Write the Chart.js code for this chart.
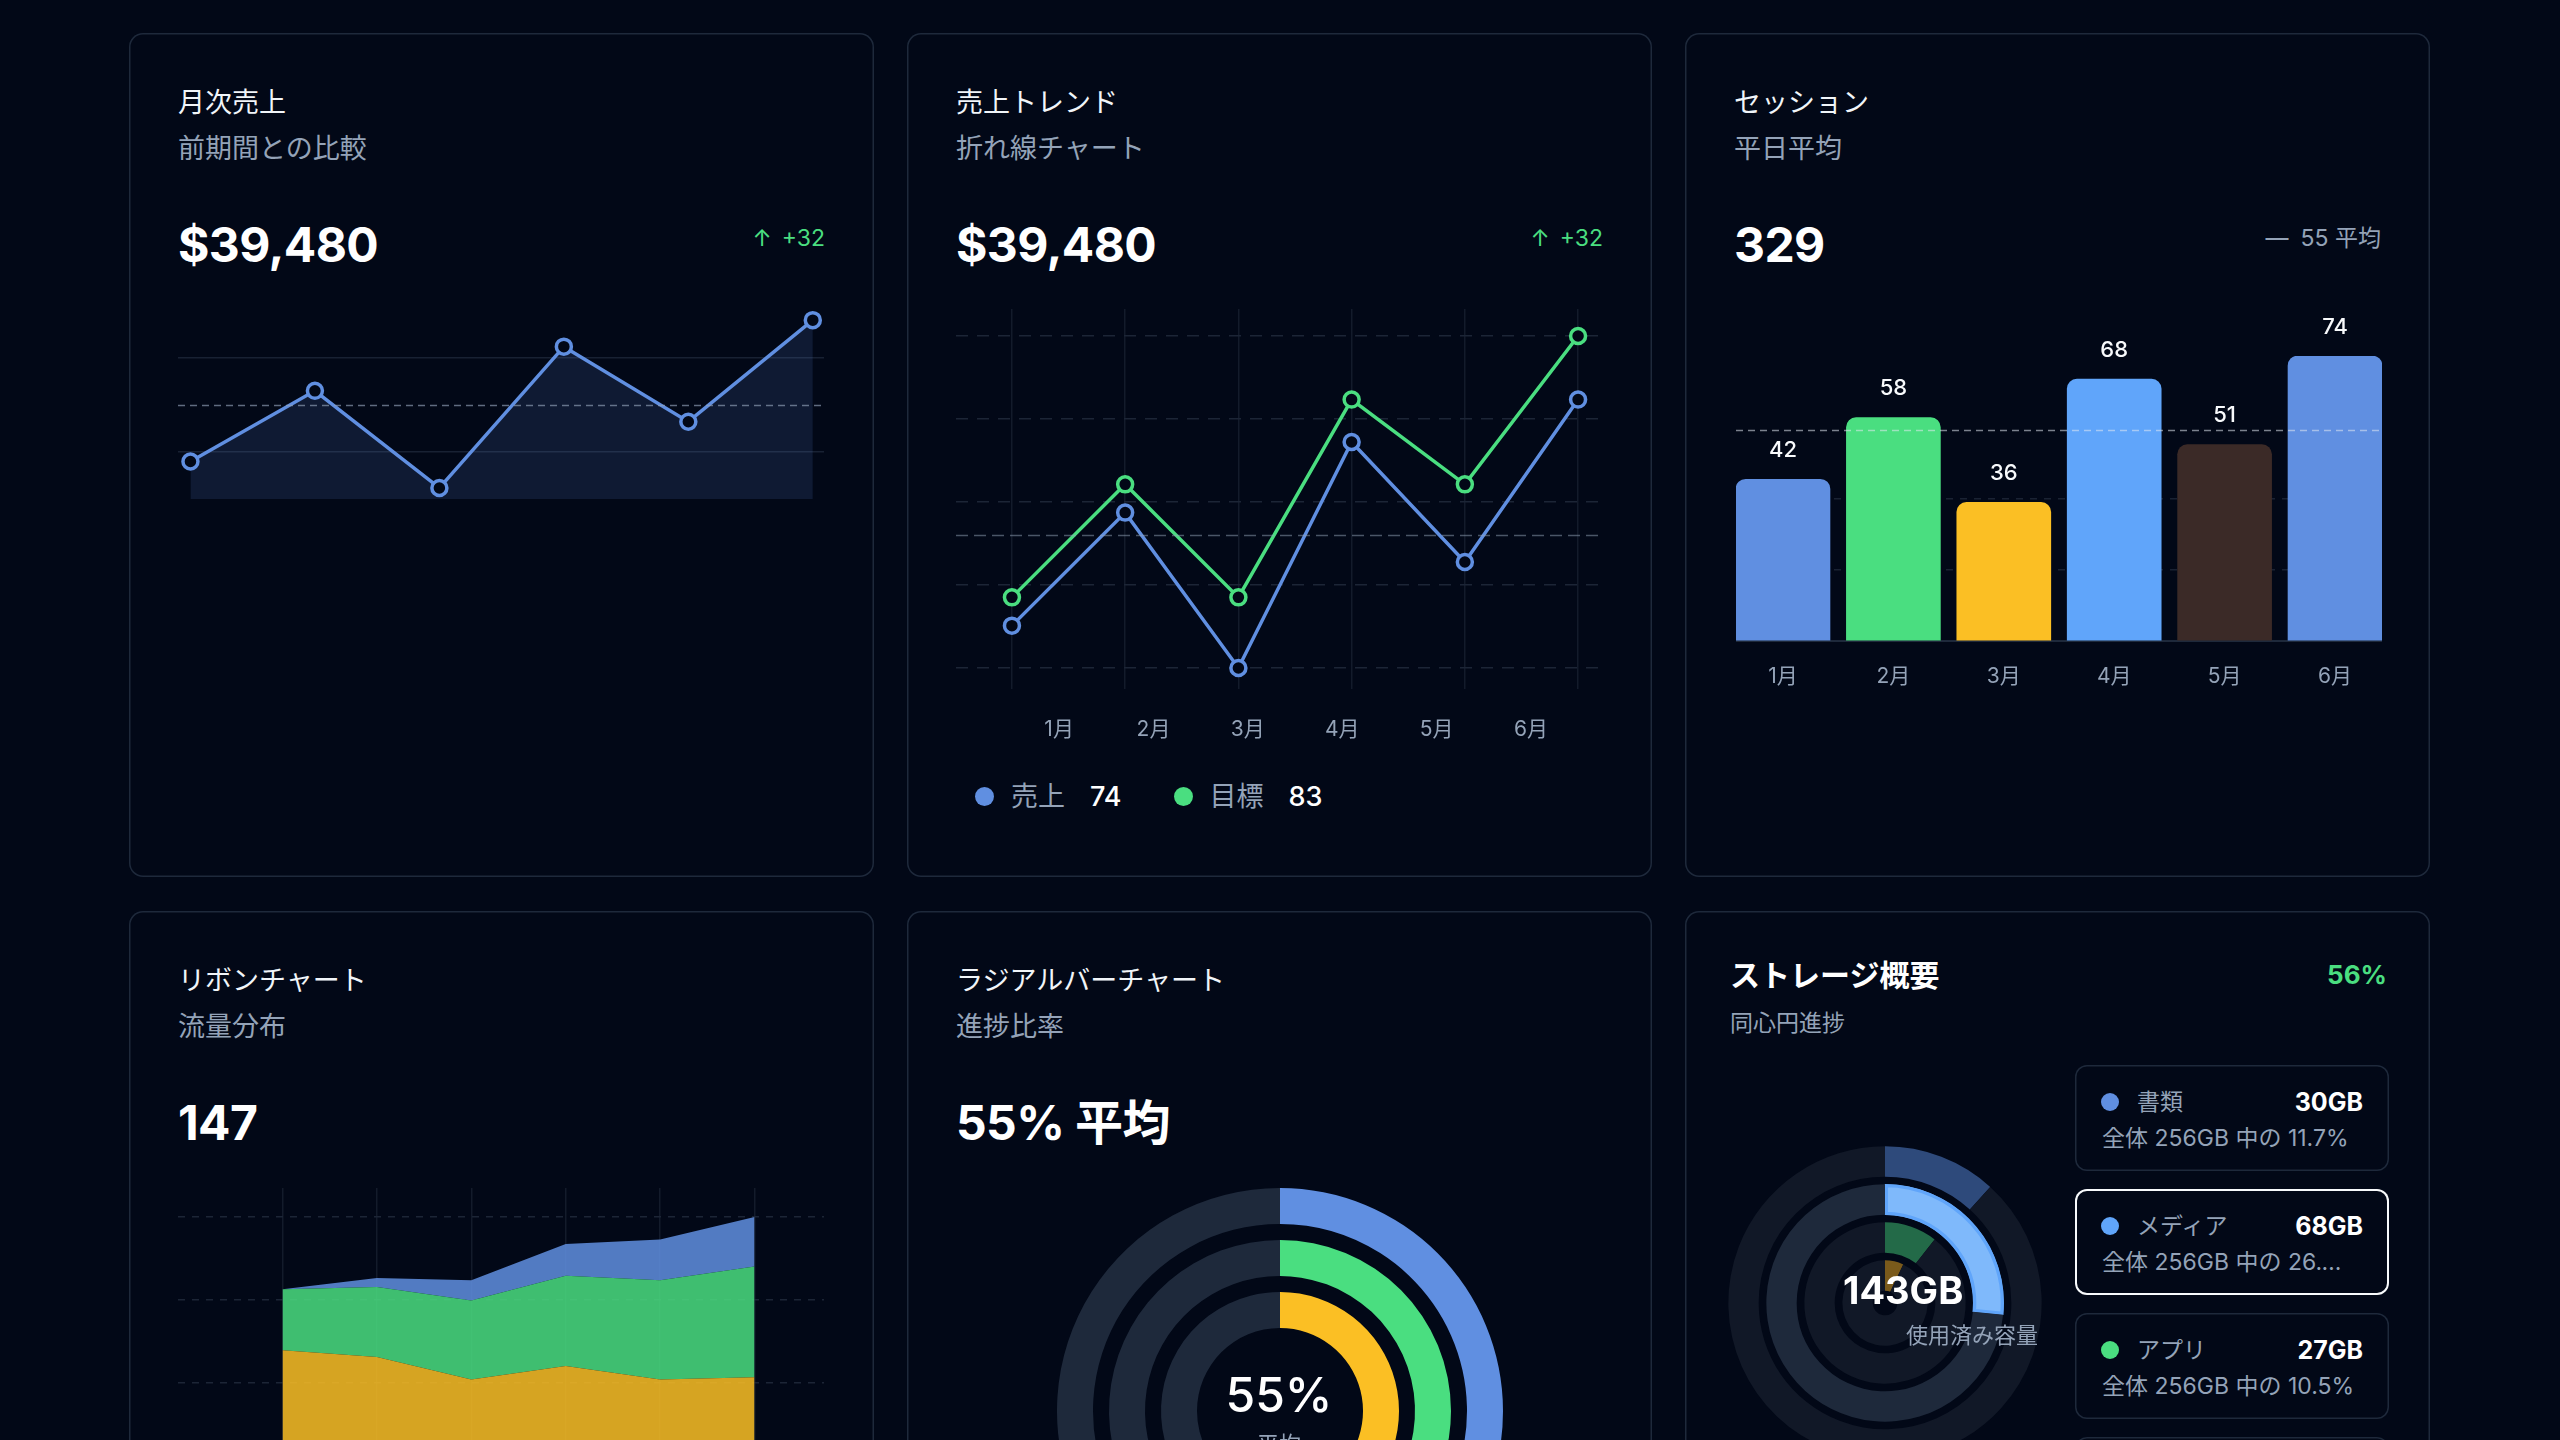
<!DOCTYPE html>
<html lang="ja">
<head>
<meta charset="utf-8">
<title>ダッシュボード</title>
<script src="https://cdn.jsdelivr.net/npm/chart.js@4.4.1/dist/chart.umd.min.js"></script>
<style>
  html, body { margin: 0; padding: 0; background: #020817; }
  body { width: 2560px; height: 1440px; overflow: hidden; position: relative;
         font-family: Inter, "Noto Sans CJK JP", sans-serif; color: #f1f5f9; }
  .card { position: absolute; width: 745px; height: 844px; border-radius: 14px;
          background: #020817; box-shadow: inset 0 0 0 1.5px #1e293b; }
  .card canvas { position: absolute; }
  .t { position: absolute; white-space: nowrap; }
  .title { left: 49px; top: 56px; font-size: 27px; line-height: 27px; color: #f1f5f9; }
  .sub { left: 49px; top: 102px; font-size: 27px; line-height: 27px; color: #94a3b8; }
  .big { left: 49px; top: 188px; font-size: 48px; line-height: 48px; font-weight: 700; color: #fff; letter-spacing: -0.6px; }
  .delta { right: 49px; top: 194px; font-size: 23px; line-height: 23px; color: #4ade80; }
  .delta .arrow { margin-right: 10px; }
  .avg { right: 49px; top: 194px; font-size: 23px; line-height: 23px; color: #94a3b8; }
  .avg .dash { margin-right: 12px; }
  .legend { position: absolute; left: 68px; top: 750px; display: flex; align-items: center;
            font-size: 27px; line-height: 27px; }
  .legend .dot { width: 19px; height: 19px; border-radius: 50%; margin-right: 17px; }
  .legend .name { color: #94a3b8; margin-right: 25px; }
  .legend .val { color: #fff; font-weight: 500; margin-right: 52px; }
  .ring-center { position: absolute; text-align: center; }
  .s-title { left: 45px; top: 49px; font-size: 30px; line-height: 30px; font-weight: 700; color: #fff; }
  .s-sub { left: 45px; top: 101px; font-size: 23px; line-height: 23px; color: #94a3b8; }
  .s-pct { right: 43px; top: 51px; font-size: 26px; line-height: 26px; font-weight: 700; color: #4ade80; }
  .item { position: absolute; left: 390px; width: 314px; height: 106px; border-radius: 12px;
          box-shadow: inset 0 0 0 1.5px #1e293b; }
  .item.active { box-shadow: inset 0 0 0 2px #f8fafc; }
  .item .dot { position: absolute; left: 26px; top: 28px; width: 18px; height: 18px; border-radius: 50%; }
  .item .name { position: absolute; left: 62px; top: 26px; font-size: 23px; line-height: 23px; color: #94a3b8; }
  .item .gb { position: absolute; right: 26px; top: 25px; font-size: 25px; line-height: 25px; font-weight: 700; color: #fff; }
  .item .share { position: absolute; left: 27px; top: 62px; max-width: 261px; overflow: hidden; white-space: nowrap;
                 text-overflow: ellipsis; font-size: 23px; line-height: 23px; color: #94a3b8; }
  .item.active .share { max-width: 246px; }
</style>
</head>
<body>

<div class="card" style="left:129px;top:33px">
  <div class="t title">月次売上</div>
  <div class="t sub">前期間との比較</div>
  <div class="t big">$39,480</div>
  <div class="t delta"><span class="arrow">↑</span>+32</div>
  <canvas id="c1" width="646" height="189" style="left:49px;top:277px"></canvas>
</div>

<div class="card" style="left:907px;top:33px">
  <div class="t title">売上トレンド</div>
  <div class="t sub">折れ線チャート</div>
  <div class="t big">$39,480</div>
  <div class="t delta"><span class="arrow">↑</span>+32</div>
  <canvas id="c2" width="647" height="440" style="left:49px;top:276px"></canvas>
  <div class="legend" id="trendLegend"></div>
</div>

<div class="card" style="left:1685px;top:33px">
  <div class="t title">セッション</div>
  <div class="t sub">平日平均</div>
  <div class="t big" id="sessionTotal"></div>
  <div class="t avg"><span class="dash">—</span><span id="sessionAvg"></span> 平均</div>
  <canvas id="c3" width="646" height="391" style="left:51px;top:267px"></canvas>
</div>

<div class="card" style="left:129px;top:911px">
  <div class="t title">リボンチャート</div>
  <div class="t sub">流量分布</div>
  <div class="t big" id="ribbonTotal"></div>
  <canvas id="c4" width="646" height="380" style="left:49px;top:277px"></canvas>
</div>

<div class="card" style="left:907px;top:911px">
  <div class="t title">ラジアルバーチャート</div>
  <div class="t sub">進捗比率</div>
  <div class="t big" id="radialHead"></div>
  <canvas id="c5" width="446" height="446" style="left:150px;top:277px"></canvas>
  <div class="ring-center" id="radialCenter" style="left:272px;top:460px;width:200px;font-size:48px;line-height:48px;font-weight:500;color:#fff"></div>
  <div class="ring-center" style="left:272px;top:522px;width:200px;font-size:22px;line-height:22px;color:#94a3b8">平均</div>
</div>

<div class="card" style="left:1685px;top:911px">
  <div class="t s-title">ストレージ概要</div>
  <div class="t s-sub">同心円進捗</div>
  <div class="t s-pct" id="storagePct"></div>
  <canvas id="c6" width="314" height="314" style="left:43px;top:235px"></canvas>
  <div class="t" id="storageUsed" style="left:158px;top:360px;font-size:38px;line-height:38px;font-weight:700;color:#fff"></div>
  <div class="t" style="left:221px;top:413px;font-size:22px;line-height:22px;color:#94a3b8">使用済み容量</div>
  <div id="storageItems"></div>
</div>

<script>
const months = ["1月", "2月", "3月", "4月", "5月", "6月"];
const monthlySales = [42, 58, 36, 68, 51, 74];
const trendSales = [42, 58, 36, 68, 51, 74];
const trendTarget = [46, 62, 46, 74, 62, 83];
const sessions = [42, 58, 36, 68, 51, 74];
const ribbonBase = [88, 85, 75, 81, 75, 76];
const ribbonMid = [27, 31, 35, 40, 44, 49];
const ribbonTop = [0, 4, 9, 14, 18, 22];
const radialValues = [68, 55, 42];
const storageNames = ["書類", "メディア", "アプリ", "その他"];
const storageGB = [30, 68, 27, 18];
const storageTotal = 256;
const activeStorage = 1;

const BG = "#020817";
const BLUE = "#608fe1";
const GREEN = "#4ade80";
const AMBER = "#fbbf24";
const GREY = "#94a3b8";
const sessionColors = [BLUE, GREEN, AMBER, "#60a5fa", "#3b2a27", BLUE];
const storageDots = [BLUE, "#60a5fa", GREEN, AMBER];
const storageSeg = ["#2e4a7b", "#7fb9fb", "#236a48", "#7a5a1b"];
const storageTrack = ["#111827", "#1e293b", "#111827", "#111827"];

Chart.defaults.font.family = 'Inter, "Noto Sans CJK JP", sans-serif';
Chart.defaults.animation = false;
Chart.defaults.responsive = false;
Chart.defaults.devicePixelRatio = 1;
Chart.defaults.events = [];
Chart.defaults.layout.autoPadding = false;
Chart.defaults.plugins.legend.display = false;
Chart.defaults.plugins.tooltip.enabled = false;

const xy = arr => arr.map((v, i) => ({ x: i, y: v }));
const avg = arr => arr.reduce((a, b) => a + b, 0) / arr.length;
const quarterTicks = (lo, hi) => s => { s.ticks = [0, 1, 2, 3, 4].map(k => ({ value: lo + k * (hi - lo) / 4 })); };
const indexTicks = n => s => { s.ticks = Array.from({ length: n }, (_, i) => ({ value: i })); };
const lineStyle = col => ({
  borderColor: col, borderWidth: 3.5, tension: 0, pointRadius: 7.5, pointBorderWidth: 3.5,
  pointBackgroundColor: BG, pointBorderColor: col, clip: false
});

// dashed average line
Chart.register({
  id: "avgLine",
  afterDatasetsDraw(chart, args, opts) {
    if (opts.value == null) return;
    const { ctx, chartArea: a } = chart;
    const py = Math.round(chart.scales.y.getPixelForValue(opts.value)) + 0.5;
    ctx.save();
    ctx.strokeStyle = opts.color;
    ctx.lineWidth = opts.width || 1.5;
    ctx.setLineDash(opts.dash || [6, 6]);
    ctx.beginPath();
    ctx.moveTo(a.left, py);
    ctx.lineTo(a.right, py);
    ctx.stroke();
    ctx.restore();
  }
});

const barLabels = {
  id: "barLabels",
  afterDatasetsDraw(chart) {
    const { ctx } = chart;
    ctx.save();
    ctx.font = '500 22px Inter, "Noto Sans CJK JP"';
    ctx.fillStyle = "#f8fafc";
    ctx.textAlign = "center";
    ctx.textBaseline = "middle";
    chart.getDatasetMeta(0).data.forEach((bar, i) => ctx.fillText(sessions[i], bar.x, bar.y - 29));
    ctx.restore();
  }
};

// 月次売上
new Chart(document.getElementById("c1"), {
  type: "line",
  data: {
    datasets: [Object.assign(lineStyle(BLUE), {
      data: xy(monthlySales), fill: "start", backgroundColor: "rgba(96,143,225,0.14)"
    })]
  },
  options: {
    scales: {
      x: { type: "linear", display: false, min: -0.1, max: 5.09 },
      y: {
        min: 33.5, max: 76.3, afterBuildTicks: quarterTicks(33.5, 76.3),
        ticks: { display: false },
        grid: { drawTicks: false, lineWidth: 1.5, color: c => (c.index % 2 ? "#182133" : "transparent") },
        border: { display: false }
      }
    },
    plugins: { avgLine: { value: avg(monthlySales), color: "rgba(148,163,184,0.65)", dash: [7, 5] } }
  }
});

// 売上トレンド
const trendLo = Math.min(...trendSales, ...trendTarget);
const trendHi = Math.max(...trendSales, ...trendTarget);
new Chart(document.getElementById("c2"), {
  type: "line",
  data: {
    datasets: [
      Object.assign(lineStyle(BLUE), { data: xy(trendSales), xAxisID: "x" }),
      Object.assign(lineStyle(GREEN), { data: xy(trendTarget), xAxisID: "x" })
    ]
  },
  options: {
    scales: {
      x: {
        type: "linear", min: -0.494, max: 5.22, afterBuildTicks: indexTicks(months.length),
        ticks: { display: false }, grid: { drawTicks: false, color: "#131b2b", lineWidth: 1.5 },
        border: { display: false }
      },
      x2: {
        type: "linear", position: "bottom", min: -0.494, max: 5.22,
        afterBuildTicks: s => { s.ticks = months.map((m, i) => ({ value: (i + 0.5) * 5 / 6 })); },
        afterFit: s => { s.height = 60; },
        grid: { display: false }, border: { display: false },
        ticks: { color: GREY, font: { size: 21 }, padding: 20, autoSkip: false, maxRotation: 0,
                 callback: (v, i) => months[i] }
      },
      y: {
        min: 33.03, max: 86.82, afterBuildTicks: quarterTicks(trendLo, trendHi),
        ticks: { display: false }, grid: { drawTicks: false, color: "#1c2536", lineWidth: 1.5 },
        border: { display: false, dash: [12, 9] }
      }
    },
    plugins: { avgLine: { value: avg(trendSales), color: "rgba(148,163,184,0.5)", dash: [12, 6] } }
  }
});

const legendEl = document.getElementById("trendLegend");
[["売上", BLUE, trendSales], ["目標", GREEN, trendTarget]].forEach(([name, col, arr]) => {
  legendEl.insertAdjacentHTML("beforeend",
    `<span class="dot" style="background:${col}"></span><span class="name">${name}</span><span class="val">${arr[arr.length - 1]}</span>`);
});

// セッション
document.getElementById("sessionTotal").textContent = sessions.reduce((a, b) => a + b, 0);
document.getElementById("sessionAvg").textContent = Math.round(avg(sessions));
const sessMax = Math.max(...sessions);
new Chart(document.getElementById("c3"), {
  type: "bar",
  data: {
    datasets: [{ data: xy(sessions), backgroundColor: sessionColors, borderRadius: 10,
                 borderSkipped: "start", barThickness: 94 }]
  },
  options: {
    layout: { padding: { top: 56 } },
    scales: {
      x: {
        type: "linear", offset: false, min: -0.4255, max: 5.4255, afterBuildTicks: indexTicks(months.length),
        afterFit: s => { s.height = 50; },
        grid: { display: false, offset: false }, border: { display: true, color: "#1e293b", width: 2 },
        ticks: { color: GREY, font: { size: 21 }, padding: 15, autoSkip: false, maxRotation: 0,
                 callback: (v, i) => months[i] }
      },
      y: {
        min: 0, max: sessMax, afterBuildTicks: quarterTicks(0, sessMax),
        ticks: { display: false },
        grid: { drawTicks: false, lineWidth: 1.5, color: c => (c.index === 1 || c.index === 2 ? "#1a2233" : "transparent") },
        border: { display: false, dash: [7, 7] }
      }
    },
    plugins: { avgLine: { value: avg(sessions), color: "rgba(226,232,240,0.55)", dash: [7, 5] } }
  },
  plugins: [barLabels]
});

// リボンチャート
const ribbonLast = ribbonBase[5] + ribbonMid[5] + ribbonTop[5];
document.getElementById("ribbonTotal").textContent = ribbonLast;
new Chart(document.getElementById("c4"), {
  type: "line",
  data: {
    datasets: [
      { data: xy(ribbonBase), fill: "origin", backgroundColor: "rgba(251,191,36,0.85)" },
      { data: xy(ribbonMid), fill: "-1", backgroundColor: "rgba(74,222,128,0.85)" },
      { data: xy(ribbonTop), fill: "-1", backgroundColor: "rgba(96,143,225,0.85)" }
    ].map(d => Object.assign(d, { borderWidth: 0, pointRadius: 0, tension: 0 }))
  },
  options: {
    scales: {
      x: {
        type: "linear", min: -1.107, max: 5.736, afterBuildTicks: indexTicks(months.length),
        ticks: { display: false }, grid: { drawTicks: false, color: "#131b2b", lineWidth: 1.5 },
        border: { display: false }
      },
      y: {
        stacked: true, min: -8.4, max: 159.8, afterBuildTicks: quarterTicks(0, ribbonLast),
        ticks: { display: false }, grid: { drawTicks: false, color: "#1c2536", lineWidth: 1.5 },
        border: { display: false, dash: [7, 7] }
      }
    }
  }
});

// ラジアルバーチャート
const radialAvg = Math.round(avg(radialValues));
document.getElementById("radialHead").textContent = radialAvg + "% 平均";
document.getElementById("radialCenter").textContent = radialAvg + "%";
const radialColors = [BLUE, GREEN, AMBER];
const gapRing = w => ({ data: [1], backgroundColor: ["rgba(0,0,0,0)"], weight: w });
const radialSets = [];
radialValues.forEach((v, i) => {
  if (i) radialSets.push(gapRing(16));
  radialSets.push({ data: [v, 100 - v], backgroundColor: [radialColors[i], "#1e293b"], weight: 36 });
});
new Chart(document.getElementById("c5"), {
  type: "doughnut",
  data: { datasets: radialSets },
  options: { cutout: 83, elements: { arc: { borderWidth: 0 } } }
});

// ストレージ概要
const used = storageGB.reduce((a, b) => a + b, 0);
document.getElementById("storageUsed").textContent = used + "GB";
document.getElementById("storagePct").textContent = Math.round(used / storageTotal * 100) + "%";
const storageSets = [];
storageGB.forEach((gb, i) => {
  if (i) storageSets.push(gapRing(7));
  const active = i === activeStorage;
  storageSets.push({
    data: [gb, storageTotal - gb], backgroundColor: [storageSeg[i], storageTrack[i]], weight: 31,
    borderWidth: active ? [3, 0] : 0, borderColor: ["#60a5fa", "rgba(0,0,0,0)"], borderAlign: "inner"
  });
});
new Chart(document.getElementById("c6"), {
  type: "doughnut",
  data: { datasets: storageSets },
  options: { cutout: 12, elements: { arc: { borderWidth: 0 } } }
});

const itemsEl = document.getElementById("storageItems");
storageNames.forEach((name, i) => {
  const share = (storageGB[i] / storageTotal * 100).toFixed(1);
  itemsEl.insertAdjacentHTML("beforeend",
    `<div class="item${i === activeStorage ? " active" : ""}" style="top:${154 + i * 124}px">
       <span class="dot" style="background:${storageDots[i]}"></span>
       <span class="name">${name}</span>
       <span class="gb">${storageGB[i]}GB</span>
       <div class="share">全体 ${storageTotal}GB 中の ${share}%</div>
     </div>`);
});
</script>
</body>
</html>
